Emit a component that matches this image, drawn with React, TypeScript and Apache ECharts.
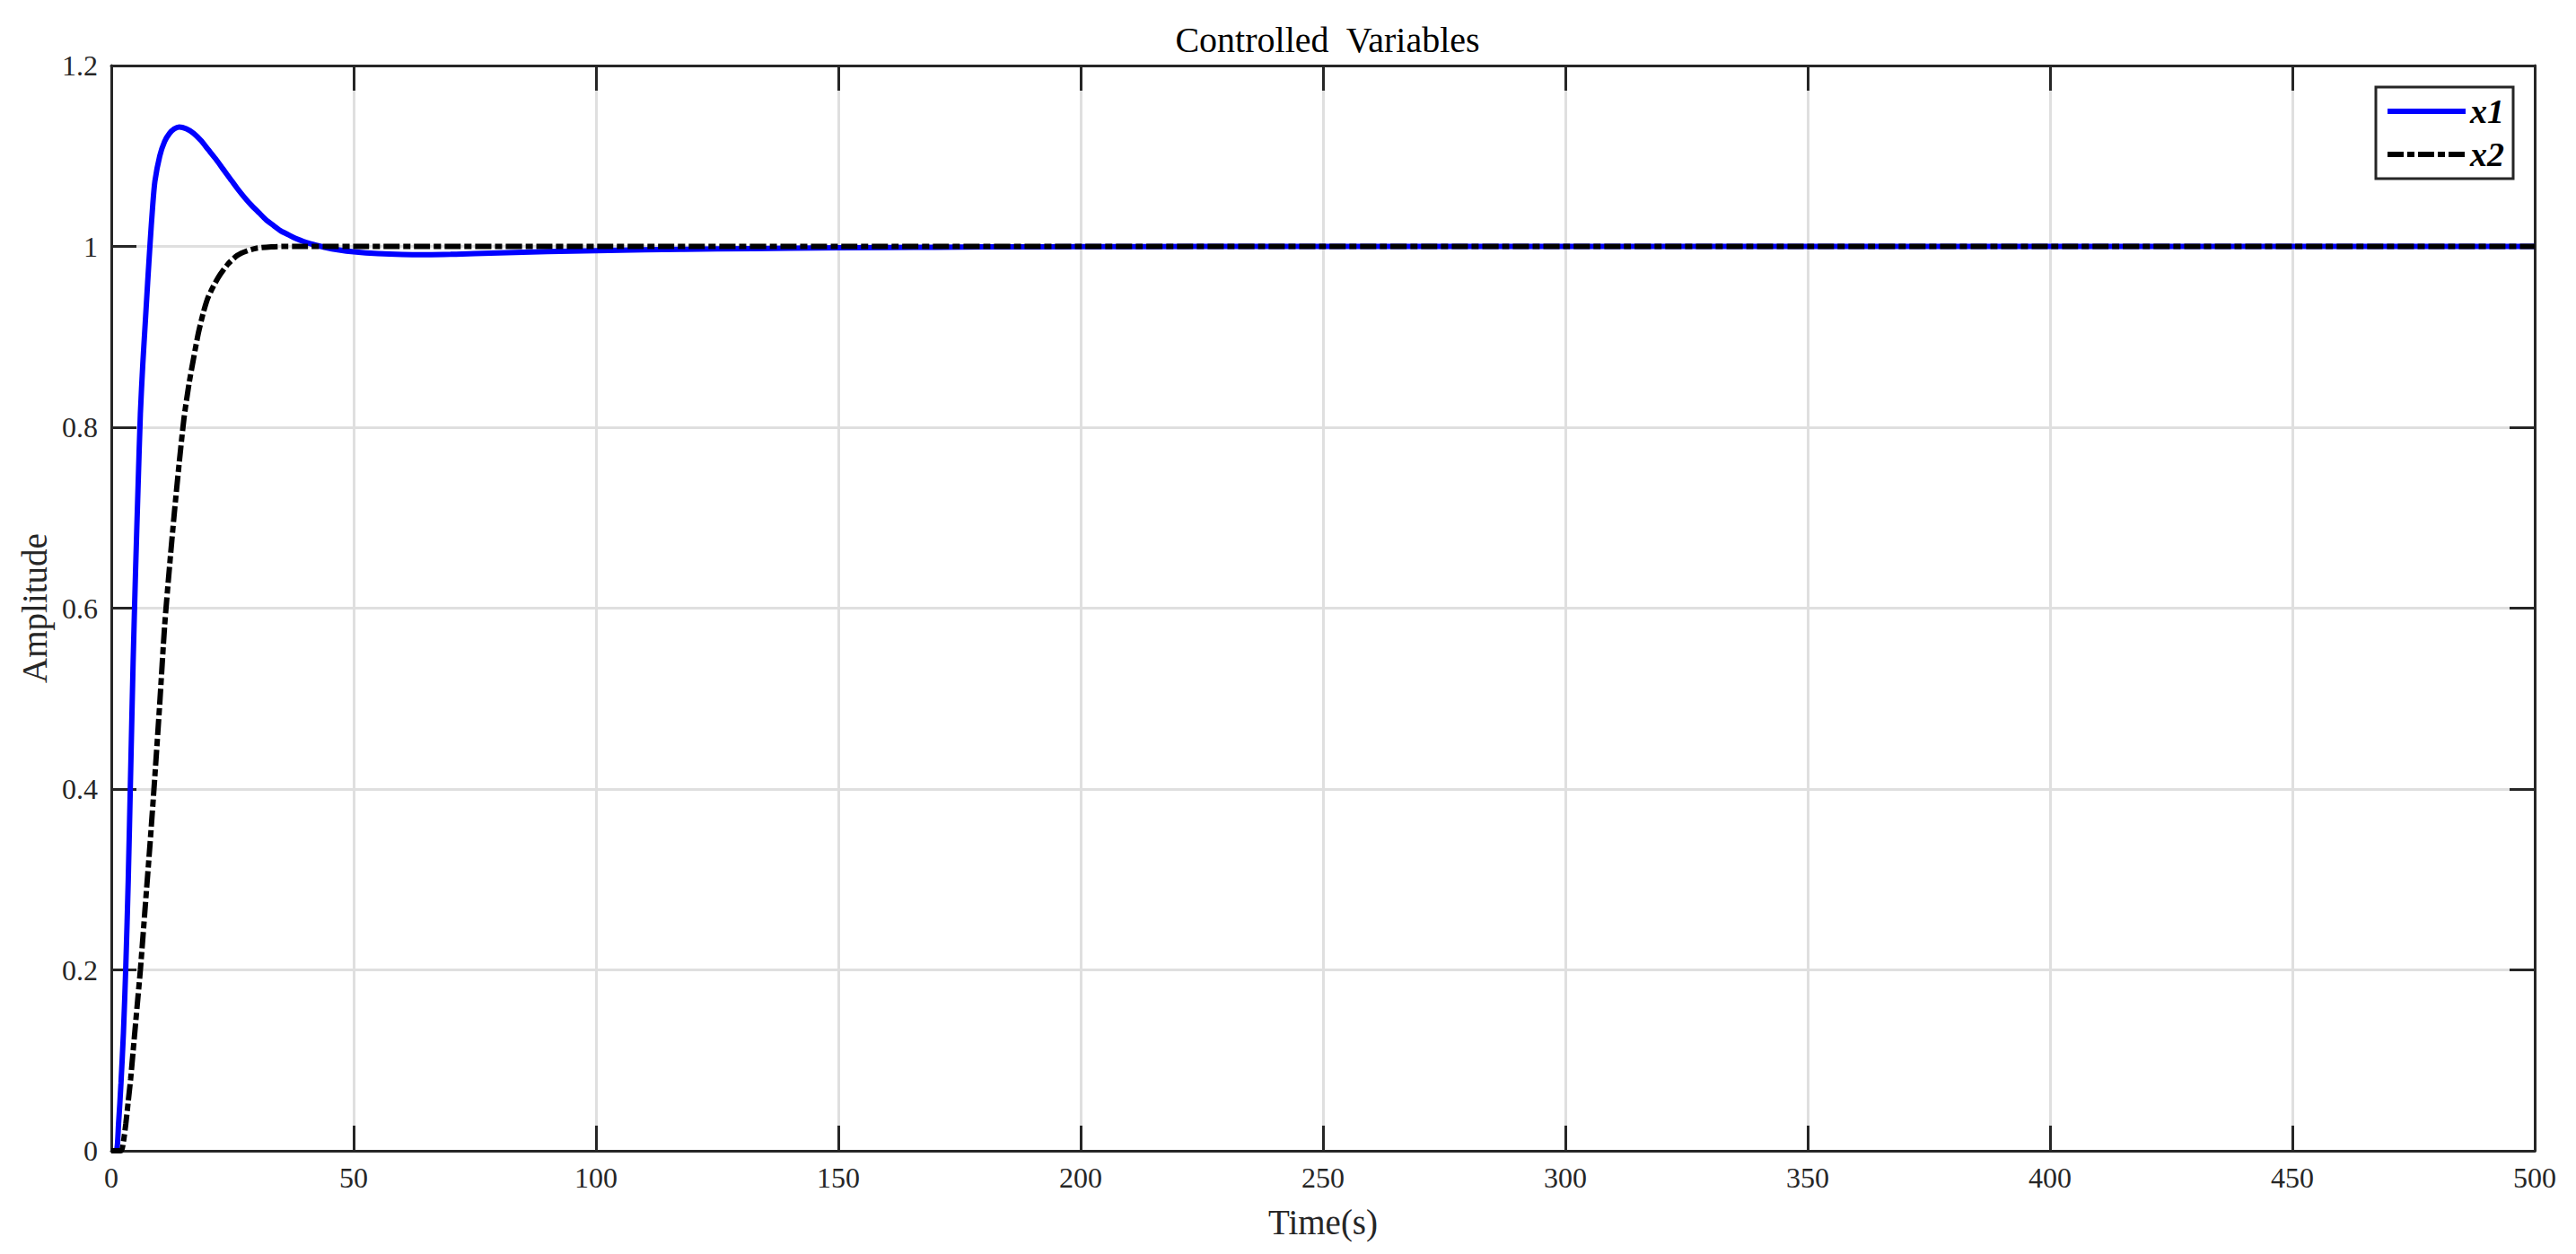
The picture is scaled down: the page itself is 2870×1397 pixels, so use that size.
import React, { useEffect, useRef } from "react";
import * as echarts from "echarts";

const chartTitle = "Controlled  Variables";
const xAxisName = "Time(s)";
const yAxisName = "Amplitude";
const seriesNames = ["x1", "x2"];

const xTickInterval = 50;
const yTickInterval = 0.2;

// x1 (blue, solid)
const timeX1 = [
  0, 1, 1.5, 2, 2.5, 3, 3.5, 4, 4.5, 5, 5.5, 6, 6.5, 7, 7.5, 8, 8.5, 9, 10, 11,
  12, 13, 14, 15.5, 17, 18.5, 20, 21.5, 23, 24.5, 26, 27.5, 29, 30.5, 32, 33.5,
  35, 36.5, 38, 41, 44, 47, 50, 55, 60, 65, 70, 80, 90, 100, 110, 125, 140, 160,
  180, 200, 250, 300, 350, 400, 450, 500,
];
const valuesX1 = [
  0, 0, 0.03, 0.075, 0.13, 0.205, 0.3, 0.42, 0.54, 0.64, 0.73, 0.815, 0.87,
  0.915, 0.96, 1.003, 1.042, 1.072, 1.1, 1.116, 1.125, 1.13, 1.132, 1.13,
  1.125, 1.117, 1.107, 1.097, 1.086, 1.075, 1.064, 1.054, 1.045, 1.037, 1.029,
  1.023, 1.017, 1.013, 1.009, 1.003, 0.999, 0.996, 0.994, 0.992, 0.991, 0.9908,
  0.9912, 0.9928, 0.9942, 0.9953, 0.9962, 0.9972, 0.998, 0.9988, 0.9994,
  0.9997, 1.0, 1.0, 1.0, 1.0, 1.0, 1.0,
];

// x2 (black, dash-dot)
const timeX2 = [
  0, 2, 2.5, 3, 3.5, 4, 4.5, 5, 5.5, 6, 7, 8, 9, 10, 11, 12, 13, 14, 15, 16,
  17, 18, 19, 20, 22, 24, 26, 28, 30, 33, 36, 50, 100, 150, 200, 250, 300, 350,
  400, 450, 500,
];
const valuesX2 = [
  0, 0, 0.01, 0.03, 0.055, 0.08, 0.11, 0.14, 0.17, 0.2, 0.27, 0.34, 0.415,
  0.495, 0.58, 0.645, 0.705, 0.76, 0.81, 0.847, 0.877, 0.905, 0.927, 0.944,
  0.965, 0.98, 0.99, 0.995, 0.998, 0.9995, 1.0, 1.0, 1.0, 1.0, 1.0, 1.0, 1.0,
  1.0, 1.0, 1.0, 1.0,
];

const FONT = "'Liberation Serif', 'Times New Roman', serif";
const AXIS_COLOR = "#262626";
const GRID_COLOR = "#dfdfdf";
const LINE_WIDTH = 6;

export default function App() {
  const ref = useRef<HTMLDivElement>(null);

  useEffect(() => {
    if (!ref.current) return;
    const chart = echarts.init(ref.current, undefined, { renderer: "svg" });

    const axisLine = { show: true, onZero: false, lineStyle: { color: AXIS_COLOR, width: 3 } };
    const axisTick = { show: true, inside: true, length: 28, lineStyle: { color: AXIS_COLOR, width: 3 } };
    const labelStyle = { fontFamily: FONT, fontSize: 32, color: AXIS_COLOR };
    const nameStyle = { fontFamily: FONT, fontSize: 39, color: AXIS_COLOR };

    const option: any = {
      animation: false,
      backgroundColor: "#ffffff",
      title: {
        text: chartTitle,
        left: 1474,
        top: 19,
        textAlign: "center",
        textStyle: { fontFamily: FONT, fontSize: 40, fontWeight: "normal", color: "#000000" },
      },
      grid: { left: 124, right: 46, top: 73, bottom: 115, containLabel: false },
      legend: {
        show: true,
        orient: "vertical",
        left: 2647,
        top: 97,
        align: "left",
        padding: [7, 10, 7, 10],
        itemGap: 8,
        itemWidth: 87,
        itemHeight: 20,
        borderColor: AXIS_COLOR,
        borderWidth: 3,
        backgroundColor: "#ffffff",
        itemStyle: { opacity: 0, borderWidth: 0 },
        lineStyle: { width: LINE_WIDTH },
        textStyle: {
          fontFamily: FONT,
          fontSize: 38,
          fontWeight: "bold",
          fontStyle: "italic",
          color: "#000000",
          lineHeight: 40,
        },
        data: seriesNames,
      },
      xAxis: [
        {
          type: "value",
          position: "bottom",
          min: 0,
          max: 500,
          interval: xTickInterval,
          axisLine,
          axisTick,
          axisLabel: { ...labelStyle, margin: 14 },
          splitLine: { show: true, lineStyle: { color: GRID_COLOR, width: 3 } },
          name: xAxisName,
          nameLocation: "middle",
          nameGap: 60,
          nameTextStyle: nameStyle,
        },
        {
          type: "value",
          position: "top",
          min: 0,
          max: 500,
          interval: xTickInterval,
          axisLine,
          axisTick,
          axisLabel: { show: false },
          splitLine: { show: false },
        },
      ],
      yAxis: [
        {
          type: "value",
          position: "left",
          min: 0,
          max: 1.2,
          interval: yTickInterval,
          axisLine,
          axisTick,
          axisLabel: { ...labelStyle, margin: 15 },
          splitLine: { show: true, lineStyle: { color: GRID_COLOR, width: 3 } },
          name: yAxisName,
          nameLocation: "middle",
          nameGap: 64,
          nameRotate: 90,
          nameTextStyle: nameStyle,
        },
        {
          type: "value",
          position: "right",
          min: 0,
          max: 1.2,
          interval: yTickInterval,
          axisLine,
          axisTick,
          axisLabel: { show: false },
          splitLine: { show: false },
        },
      ],
      series: [
        {
          name: seriesNames[0],
          type: "line",
          xAxisIndex: 0,
          yAxisIndex: 0,
          data: timeX1.map((t, i) => [t, valuesX1[i]]),
          showSymbol: false,
          symbol: "none",
          smooth: 0.25,
          lineStyle: { color: "#0000ff", width: LINE_WIDTH, type: "solid" },
          itemStyle: { color: "#0000ff" },
          z: 2,
        },
        {
          name: seriesNames[1],
          type: "line",
          xAxisIndex: 0,
          yAxisIndex: 0,
          data: timeX2.map((t, i) => [t, valuesX2[i]]),
          showSymbol: false,
          symbol: "none",
          smooth: 0.25,
          lineStyle: { color: "#000000", width: LINE_WIDTH, type: [18, 4, 8, 4] },
          itemStyle: { color: "#000000" },
          z: 3,
        },
      ],
    };

    chart.setOption(option);
    return () => {
      chart.dispose();
    };
  }, []);

  return (
    <div
      ref={ref}
      style={{ position: "fixed", left: 0, top: 0, width: 2870, height: 1397, background: "#fff" }}
    />
  );
}
